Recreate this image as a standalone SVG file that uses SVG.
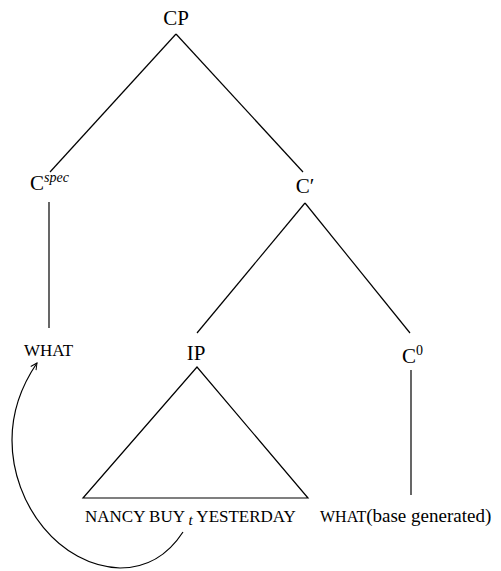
<svg xmlns="http://www.w3.org/2000/svg" width="501" height="571" viewBox="0 0 501 571" font-family="Liberation Serif, serif">
  <defs>
    <marker id="arrow" viewBox="0 0 10 10" refX="9" refY="5" markerWidth="8" markerHeight="8" orient="auto" markerUnits="userSpaceOnUse">
      <path d="M1,1 L9,5 L1,9" fill="none" stroke="#000" stroke-width="1.2"/>
    </marker>
  </defs>
  <rect width="501" height="571" fill="#fff"/>

  <!-- tree branches and the movement arrow -->
  <g id="edges" stroke="#000" stroke-width="1.2" fill="none">
    <line x1="176" y1="34" x2="50" y2="172"/>
    <line x1="176" y1="34" x2="303" y2="172"/>
    <line x1="49" y1="202" x2="49" y2="328"/>
    <line x1="305" y1="203" x2="197" y2="333"/>
    <line x1="305" y1="203" x2="410" y2="333"/>
    <polygon points="197,367 83,498 308,498"/>
    <line x1="411" y1="370" x2="411" y2="495"/>
    <path d="M183,532 C166,558 145,568 120,568 C60,566 12,505 12,440 C12,410 22,385 37,363" marker-end="url(#arrow)"/>
  </g>

  <g id="cp"><text x="176" y="25" font-family="Liberation Serif" font-size="21" text-anchor="middle">CP</text></g>
  <g id="cspec"><text x="30" y="190" font-family="Liberation Serif" font-size="21">C<tspan font-style="italic" font-size="14" dy="-8">spec</tspan></text></g>
  <g id="cbar"><text x="305" y="193" font-family="Liberation Serif" font-size="21" text-anchor="middle">C&#8242;</text></g>
  <g id="what"><text x="24" y="356" font-family="Liberation Serif" font-size="17">WHAT</text></g>
  <g id="ip"><text x="196" y="360" font-family="Liberation Serif" font-size="21" text-anchor="middle">IP</text></g>
  <g id="c0"><text x="402" y="363" font-family="Liberation Serif" font-size="21">C<tspan font-size="14" dy="-8">0</tspan></text></g>
  <g id="ip-content"><text x="85" y="522" font-family="Liberation Serif" font-size="17">NANCY BUY <tspan font-style="italic" font-size="15" dy="3">t</tspan><tspan dy="-3"> YESTERDAY</tspan></text></g>
  <g id="what-base"><text x="320" y="522" font-family="Liberation Serif" font-size="16">WHAT<tspan font-size="19">(base generated)</tspan></text></g>
</svg>
